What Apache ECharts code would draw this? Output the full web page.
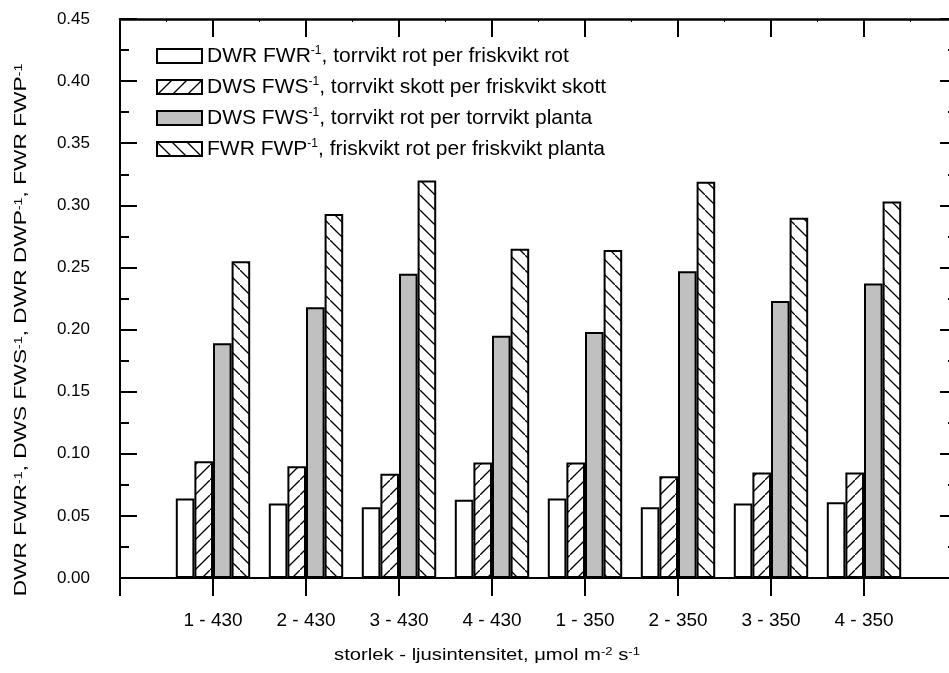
<!DOCTYPE html>
<html>
<head>
<meta charset="utf-8">
<script src="https://cdn.jsdelivr.net/npm/echarts@6/dist/echarts.min.js"></script>
<style>
html, body { margin: 0; padding: 0; background: #fff; }
#main { width: 949px; height: 673px; }
</style>
</head>
<body>
<div id="main"></div>
<script>
var categories = ['1 - 430', '2 - 430', '3 - 430', '4 - 430', '1 - 350', '2 - 350', '3 - 350', '4 - 350'];
var dwrFwr = [0.064, 0.060, 0.057, 0.063, 0.064, 0.057, 0.060, 0.061];
var dwsFws = [0.094, 0.090, 0.084, 0.093, 0.093, 0.082, 0.085, 0.085];
var dwrDwp = [0.189, 0.218, 0.245, 0.195, 0.198, 0.247, 0.223, 0.237];
var fwrFwp = [0.255, 0.293, 0.320, 0.265, 0.264, 0.319, 0.290, 0.303];
var seriesNames = [
    'DWR FWR-1, torrvikt rot per friskvikt rot',
    'DWS FWS-1, torrvikt skott per friskvikt skott',
    'DWS FWS-1, torrvikt rot per torrvikt planta',
    'FWR FWP-1, friskvikt rot per friskvikt planta'
];
var yTitle = 'DWR FWR{s|-1}, DWS FWS{s|-1}, DWR DWP{s|-1}, FWR FWP{s|-1}';
var xTitle = 'storlek - ljusintensitet, \u03bcmol m{s|-2} s{s|-1}';

var FONT = '"Liberation Sans", Arial, sans-serif';

// streckmönster för staplarna
function hatch(dir) {
    var s = 15;
    var c = document.createElement('canvas');
    c.width = s; c.height = s;
    var g = c.getContext('2d');
    g.fillStyle = '#fff';
    g.fillRect(0, 0, s, s);
    g.strokeStyle = '#000';
    g.lineWidth = 1.3;
    g.beginPath();
    if (dir > 0) {
        g.moveTo(-1, s + 1); g.lineTo(s + 1, -1);
    } else {
        g.moveTo(-1, -1); g.lineTo(s + 1, s + 1);
    }
    g.stroke();
    return { image: c, repeat: 'repeat' };
}

function bar(name, data, color) {
    return {
        name: name,
        type: 'bar',
        data: data.map(function (v, i) { return [i + 1, v]; }),
        barWidth: 18.6,
        barGap: '0%',
        itemStyle: { color: color, borderColor: '#000', borderWidth: 2 },
        emphasis: { disabled: true }
    };
}

var myChart = echarts.init(document.getElementById('main'));

var yCommon = {
    type: 'value', min: 0, max: 0.45, interval: 0.05,
    axisLine: { show: true, onZero: false, lineStyle: { color: '#000', width: 2 } },
    axisTick: { show: true, inside: true, length: 17, lineStyle: { color: '#000', width: 2 } },
    minorTick: { show: true, splitNumber: 2, length: 9, lineStyle: { color: '#000', width: 2 } },
    splitLine: { show: false }
};

var option = {
    animation: false,
    backgroundColor: '#fff',
    grid: { left: 120, top: 19, width: 837, height: 559, containLabel: false, outerBoundsMode: 'none' },
    legend: {
        orient: 'vertical',
        left: 156, top: 45,
        padding: 0,
        itemWidth: 45, itemHeight: 14, itemGap: 9,
        icon: 'rect',
        selectedMode: false,
        data: seriesNames,
        formatter: function (name) { return name.replace('-1,', '{s|-1},'); },
        textStyle: {
            fontFamily: FONT, fontSize: 21, color: '#000', lineHeight: 22,
            rich: { s: { fontFamily: FONT, fontSize: 12, lineHeight: 12, verticalAlign: 'top', color: '#000' } }
        }
    },
    xAxis: [{
        type: 'value', min: 0, max: 9, interval: 1, position: 'bottom',
        axisLine: { show: true, onZero: false, lineStyle: { color: '#000', width: 2 } },
        axisTick: { show: true, inside: false, length: 18, lineStyle: { color: '#000', width: 2 } },
        axisLabel: {
            margin: 33, fontFamily: FONT, fontSize: 19, color: '#000',
            formatter: function (v) { return categories[v - 1] || ''; }
        },
        splitLine: { show: false }
    }, {
        type: 'value', min: 0, max: 9, interval: 1, position: 'top',
        axisLine: { show: true, onZero: false, lineStyle: { color: '#000', width: 2.5 } },
        axisTick: { show: true, inside: true, length: 18, lineStyle: { color: '#000', width: 2 } },
        minorTick: { show: true, splitNumber: 2, length: 3, lineStyle: { color: '#000', width: 1 } },
        axisLabel: { show: false },
        splitLine: { show: false }
    }],
    yAxis: [
        echarts.util.merge({
            position: 'left',
            axisLabel: {
                margin: 30, fontFamily: FONT, fontSize: 17, color: '#000',
                formatter: function (v) { return v.toFixed(2); }
            }
        }, yCommon, true),
        echarts.util.merge({
            position: 'right',
            axisLabel: { show: false }
        }, yCommon, true)
    ],
    graphic: [{
        type: 'text',
        x: 22, y: 330,
        rotation: Math.PI / 2,
        scaleX: 1.42,
        style: {
            text: yTitle, fill: '#000',
            fontFamily: FONT, fontSize: 16,
            align: 'center', verticalAlign: 'middle',
            rich: { s: { fontFamily: FONT, fontSize: 10, lineHeight: 10, verticalAlign: 'top' } }
        }
    }, {
        type: 'text',
        x: 487, y: 655,
        scaleX: 1.19,
        style: {
            text: xTitle, fill: '#000',
            fontFamily: FONT, fontSize: 17,
            align: 'center', verticalAlign: 'middle',
            rich: { s: { fontFamily: FONT, fontSize: 11, lineHeight: 11, verticalAlign: 'top' } }
        }
    }],
    series: [
        bar(seriesNames[0], dwrFwr, '#fff'),
        bar(seriesNames[1], dwsFws, hatch(1)),
        bar(seriesNames[2], dwrDwp, '#c0c0c0'),
        bar(seriesNames[3], fwrFwp, hatch(-1))
    ]
};

myChart.setOption(option);
</script>
</body>
</html>
